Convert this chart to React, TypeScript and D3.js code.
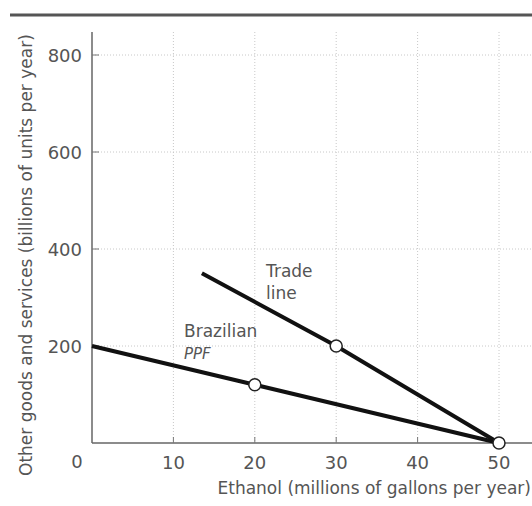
import React from 'react';
import * as d3 from 'd3';

const xTicks = [10, 20, 30, 40, 50];
const yTicks = [200, 400, 600, 800];
const ppfLine: [number, number][] = [[0, 200], [20, 120], [50, 0]];
const tradeLine: [number, number][] = [[13.5, 350], [30, 200], [50, 0]];
const markedPoints: [number, number][] = [[20, 120], [30, 200], [50, 0]];

const W = 532;
const H = 506;
const FONT = '"DejaVu Sans", sans-serif';
const TEXT = '#555';
const GRID = '#c8c8c8';

const App: React.FC = () => {
  const x = d3.scaleLinear().domain([0, 50]).range([92, 499]);
  const y = d3.scaleLinear().domain([0, 800]).range([443, 55]);

  const line = d3.line<[number, number]>()
    .x(d => x(d[0]))
    .y(d => y(d[1]));

  return (
    <svg width={W} height={H} style={{ position: 'absolute', left: 0, top: 0, background: '#fff' }}>
      {/* header rule */}
      <line x1={10} x2={W} y1={15} y2={15} stroke="#555" strokeWidth={3} />

      {/* grid */}
      {xTicks.map(t => (
        <line key={'gx' + t} x1={x(t)} x2={x(t)} y1={32} y2={y(0)}
          stroke={GRID} strokeWidth={1} strokeDasharray="1,2" />
      ))}
      {yTicks.map(t => (
        <line key={'gy' + t} x1={x(0)} x2={W} y1={y(t)} y2={y(t)}
          stroke={GRID} strokeWidth={1} strokeDasharray="1,2" />
      ))}

      {/* axes */}
      <line x1={x(0)} x2={x(0)} y1={32} y2={y(0)} stroke="#666" strokeWidth={1.5} />
      <line x1={x(0)} x2={W} y1={y(0)} y2={y(0)} stroke="#666" strokeWidth={1.5} />
      {xTicks.map(t => (
        <g key={'tx' + t}>
          <line x1={x(t)} x2={x(t)} y1={y(0)} y2={y(0) - 6} stroke="#777" strokeWidth={1} />
          <text x={x(t)} y={469} textAnchor="middle" fontFamily={FONT} fontSize={18} fill={TEXT}>{t}</text>
        </g>
      ))}
      {yTicks.map(t => (
        <g key={'ty' + t}>
          <line x1={x(0)} x2={x(0) + 7} y1={y(t)} y2={y(t)} stroke="#777" strokeWidth={1} />
          <text x={82} y={y(t) + 6.5} textAnchor="end" fontFamily={FONT} fontSize={18} fill={TEXT}>{t}</text>
        </g>
      ))}
      <text x={77} y={468} textAnchor="middle" fontFamily={FONT} fontSize={18} fill={TEXT}>0</text>

      {/* axis titles */}
      <text x={531} y={494} textAnchor="end" fontFamily={FONT} fontSize={17} fill={TEXT}>
        Ethanol (millions of gallons per year)
      </text>
      <text transform="translate(32,476) rotate(-90)" textAnchor="start" fontFamily={FONT} fontSize={17} fill={TEXT}>
        Other goods and services (billions of units per year)
      </text>

      {/* curves */}
      <path d={line(ppfLine) ?? ''} fill="none" stroke="#111" strokeWidth={4} />
      <path d={line(tradeLine) ?? ''} fill="none" stroke="#111" strokeWidth={4} />
      {markedPoints.map((p, i) => (
        <circle key={'p' + i} cx={x(p[0])} cy={y(p[1])} r={6} fill="#fff" stroke="#222" strokeWidth={1.5} />
      ))}

      {/* labels */}
      <text x={266} y={277} fontFamily={FONT} fontSize={17} fill={TEXT}>Trade</text>
      <text x={266} y={299} fontFamily={FONT} fontSize={17} fill={TEXT}>line</text>
      <text x={184} y={337} fontFamily={FONT} fontSize={17} fill={TEXT}>Brazilian</text>
      <text x={184} y={359} fontFamily={FONT} fontSize={15} fontStyle="italic" fill={TEXT}>PPF</text>
    </svg>
  );
};

export default App;
